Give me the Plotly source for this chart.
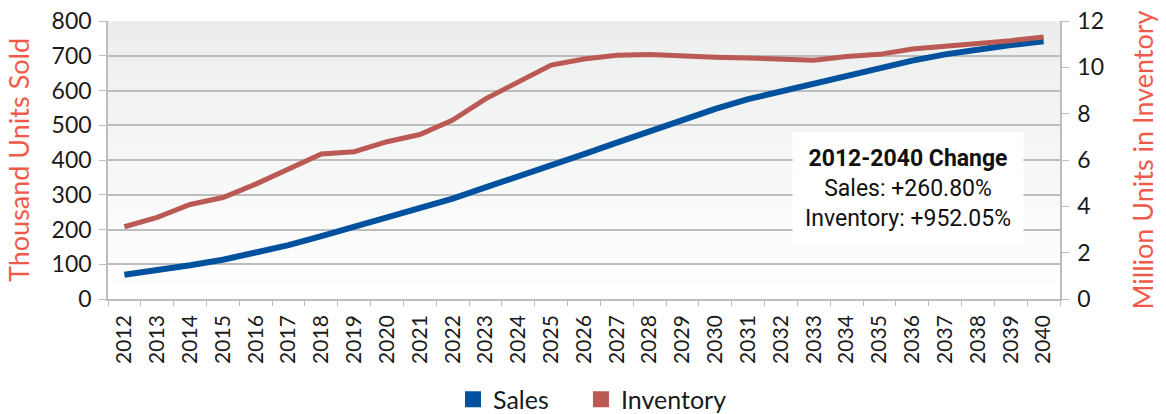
import plotly.graph_objects as go

years = [str(y) for y in range(2012, 2041)]

# Annual sales, thousand units (left axis)
sales = [70, 82, 97, 113, 132, 155, 181, 208, 235, 261, 289, 321,
         352, 384, 417, 450, 483, 516, 547, 575, 598, 620, 643, 665,
         686, 704, 719, 731, 742]

# Units in inventory, millions (right axis)
inventory = [3.12, 3.52, 4.08, 4.38, 4.96, 5.60, 6.26, 6.36, 6.79, 7.10,
             7.72, 8.64, 9.38, 10.10, 10.36, 10.52, 10.55, 10.47, 10.44,
             10.40, 10.36, 10.31, 10.47, 10.56, 10.79, 10.90, 11.02,
             11.15, 11.31]

note_lines = ["<b>2012-2040 Change</b>", "Sales: +260.80%", "Inventory: +952.05%"]

BLUE = "#00519E"
RED = "#BB5A55"
TITLE_RED = "#EF5B4B"
FONT = "Lato, 'Open Sans', sans-serif"

fig = go.Figure()

fig.add_trace(go.Scatter(x=years, y=sales, mode="lines", name="Sales",
                         line=dict(color=BLUE, width=6), showlegend=False,
                         yaxis="y"))
fig.add_trace(go.Scatter(x=years, y=inventory, mode="lines", name="Inventory",
                         line=dict(color=RED, width=5), showlegend=False,
                         yaxis="y2"))

# square legend keys, one small legend each so they can be spaced freely
for name, col, lg in [("Sales", BLUE, "legend"), ("Inventory", RED, "legend2")]:
    fig.add_trace(go.Scatter(x=[None], y=[None], mode="markers", name=name,
                             marker=dict(symbol="square", size=16, color=col),
                             showlegend=True, legend=lg))

# soft vertical gradient behind the plot area
n = 40
top = (236, 238, 238)
bot = (255, 255, 255)
for i in range(n):
    t = i / (n - 1)
    c = tuple(round(bot[k] + (top[k] - bot[k]) * t) for k in range(3))
    fig.add_shape(type="rect", xref="x domain", yref="y domain",
                  x0=0, x1=1, y0=i / n, y1=(i + 1) / n,
                  fillcolor="rgb(%d,%d,%d)" % c, line=dict(width=0),
                  layer="below")

fig.add_annotation(xref="paper", yref="paper", x=0.840, y=0.397,
                   xanchor="center", yanchor="middle",
                   text="<br>".join(note_lines), showarrow=False,
                   align="center", bgcolor="white", borderpad=12,
                   font=dict(family="Roboto, sans-serif", size=23,
                             color="#111111"))

axis_grey = "#BDBDBD"
legend_style = dict(orientation="h", xanchor="left", yref="container",
                    y=0.035, yanchor="middle", font=dict(size=25),
                    itemwidth=30, bgcolor="rgba(0,0,0,0)")

fig.update_layout(
    width=1166, height=414,
    margin=dict(l=108, r=106, t=21, b=115),
    paper_bgcolor="white", plot_bgcolor="rgba(0,0,0,0)",
    font=dict(family=FONT, size=20, color="#1a1a1a"),
    xaxis=dict(type="category", range=[-0.5, 28.5], tickangle=-90,
               tickson="boundaries", ticks="outside", ticklen=5,
               tickcolor=axis_grey, showline=True, linecolor=axis_grey,
               linewidth=1.5, showgrid=False, automargin=False,
               ticklabelstandoff=6,
               tickfont=dict(size=21)),
    yaxis=dict(range=[0, 800], dtick=100, ticks="outside", ticklen=7,
               tickcolor=axis_grey, showline=True, linecolor=axis_grey,
               linewidth=1.5, gridcolor=axis_grey, gridwidth=1.5,
               zeroline=False, automargin=False, ticklabelstandoff=3,
               tickfont=dict(size=23),
               title=dict(text="Thousand Units Sold", standoff=14,
                          font=dict(size=27, color=TITLE_RED))),
    yaxis2=dict(range=[0, 12], dtick=2, overlaying="y", side="right",
                ticks="outside", ticklen=7, tickcolor=axis_grey,
                showline=True, linecolor=axis_grey, linewidth=1.5,
                showgrid=False, zeroline=False, automargin=False,
                ticklabelstandoff=4, tickfont=dict(size=23),
                title=dict(text="Million Units in Inventory", standoff=31,
                           font=dict(size=27, color=TITLE_RED))),
    legend=dict(x=0.3624, **legend_style),
    legend2=dict(x=0.4968, **legend_style),
)

fig.write_html("out.html")
